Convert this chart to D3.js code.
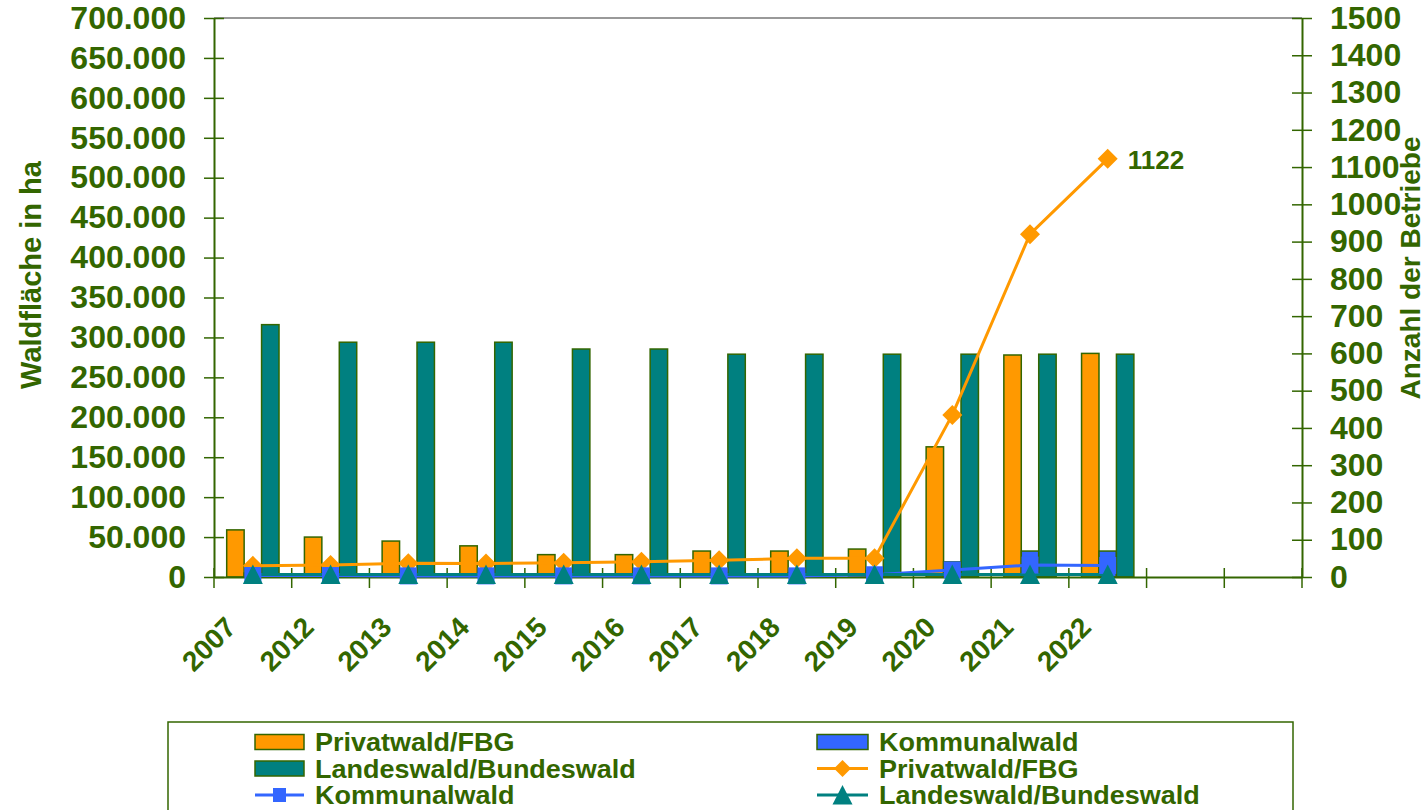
<!DOCTYPE html>
<html lang="de">
<head>
<meta charset="UTF-8">
<script src="https://d3js.org/d3.v7.min.js"></script>
<style>
  body { margin: 0; background: #fff; }
  text { font-family: "Liberation Sans", Arial, sans-serif; font-weight: bold; fill: #336600; }
</style>
</head>
<body>
<script>
// categories + values (area in ha, count of companies)
const years = ["2007", "2012", "2013", "2014", "2015", "2016", "2017", "2018", "2019", "2020", "2021", "2022"];
const privatArea   = [59000, 50000, 45000, 39000, 28000, 28000, 32500, 32500, 35000, 163000, 278000, 280000];
const kommunalArea = [5000, 5000, 4000, 4000, 4000, 4000, 5000, 5000, 8000, 19000, 32500, 32500];
const landesArea   = [316000, 294000, 294000, 294000, 285500, 285500, 279000, 279000, 279000, 279000, 279000, 279000];
const privatCount   = [30, 32, 37, 36, 38, 41, 45, 50, 50, 435, 920, 1122];
const kommunalCount = [4, 4, 3, 3, 3, 3, 3, 3, 6, 19, 32, 31];
const landesCount   = [7, 7, 7, 7, 7, 7, 7, 7, 7, 7, 7, 7];
const leftTicks = d3.range(0, 700001, 50000);
const rightTicks = d3.range(0, 1501, 100);
const slots = 14; // two empty slots at the right end

const green = "#336600";
const cOrange = "#FF9900", cBlue = "#3366FF", cTeal = "#008080";

const W = 1426, H = 810;
const pLeft = 214, pRight = 1302, pTop = 18, pBottom = 577;

const svg = d3.select("body").append("svg").attr("width", W).attr("height", H);

const x = d3.scaleBand().domain(d3.range(slots)).range([pLeft, pRight]);
const bw = x.bandwidth();
const xs = d3.scaleBand().domain([0, 1, 2]).range([12.7, bw - 12.7]);
const yL = d3.scaleLinear().domain([0, 700000]).range([pBottom, pTop]);
const yR = d3.scaleLinear().domain([0, 1500]).range([pBottom, pTop]);
const cx = i => x(i) + bw / 2;

const de = d3.formatLocale({ decimal: ",", thousands: ".", grouping: [3], currency: ["", ""] });

// top border of plot area
svg.append("line").attr("x1", pLeft).attr("x2", pRight).attr("y1", pTop).attr("y2", pTop)
  .attr("stroke", "#999").attr("stroke-width", 2);

// bars
const barSeries = [[privatArea, cOrange], [kommunalArea, cBlue], [landesArea, cTeal]];
barSeries.forEach(([vals, col], s) => {
  svg.append("g").selectAll("rect").data(vals).join("rect")
    .attr("x", (d, i) => x(i) + xs(s))
    .attr("width", xs.bandwidth())
    .attr("y", d => yL(d))
    .attr("height", d => pBottom - yL(d))
    .attr("fill", col).attr("stroke", green).attr("stroke-width", 1.5);
});

// axes
const axL = svg.append("g").attr("transform", `translate(${pLeft},0)`)
  .call(d3.axisLeft(yL).tickValues(leftTicks).tickFormat(de.format(",")).tickSizeInner(10).tickSizeOuter(0).tickPadding(18));
const axR = svg.append("g").attr("transform", `translate(${pRight},0)`)
  .call(d3.axisRight(yR).tickValues(rightTicks).tickFormat(d3.format("d")).tickSizeInner(10).tickSizeOuter(0).tickPadding(18));
[axL, axR].forEach(a => {
  a.select(".domain").attr("stroke", green).attr("stroke-width", 2);
  a.selectAll(".tick line").attr("stroke", green).attr("stroke-width", 1.5);
  a.selectAll(".tick text").attr("font-size", 32).attr("fill", green)
    .attr("font-family", "Liberation Sans, Arial, sans-serif").attr("font-weight", "bold");
});
// ticks cross the axis
axL.selectAll(".tick line").attr("x1", 10);
axR.selectAll(".tick line").attr("x1", -10);

const axX = svg.append("g").attr("transform", `translate(0,${pBottom})`)
  .call(d3.axisBottom(x).tickValues([]).tickSizeOuter(0));
axX.select(".domain").attr("stroke", green).attr("stroke-width", 2);
svg.append("g").selectAll("line").data(d3.range(slots + 1)).join("line")
  .attr("x1", i => pLeft + i * bw).attr("x2", i => pLeft + i * bw)
  .attr("y1", pBottom - 9).attr("y2", pBottom + 11)
  .attr("stroke", green).attr("stroke-width", 1.5);

// year labels
svg.append("g").selectAll("text").data(years).join("text")
  .attr("transform", (d, i) => `translate(${cx(i) - 15},629) rotate(-45)`)
  .attr("text-anchor", "end").attr("font-size", 28).text(d => d);

// lines
const lineSeries = [[privatCount, cOrange, "diamond"], [kommunalCount, cBlue, "square"], [landesCount, cTeal, "triangle"]];
const markerPath = {
  diamond: "M0,-10L10,0L0,10L-10,0Z",
  square: "M-8.5,-8.5H8.5V8.5H-8.5Z",
  triangle: "M0,-10L10,9.5H-10Z",
  legDiamond: "M0,-8.5L8.5,0L0,8.5L-8.5,0Z",
  legSquare: "M-6.5,-7H6.5V7H-6.5Z"
};
lineSeries.forEach(([vals, col, m]) => {
  svg.append("path").datum(vals)
    .attr("d", d3.line().x((d, i) => cx(i)).y(d => yR(d)))
    .attr("fill", "none").attr("stroke", col).attr("stroke-width", 3);
});
lineSeries.forEach(([vals, col, m]) => {
  svg.append("g").selectAll("path").data(vals).join("path")
    .attr("transform", (d, i) => `translate(${cx(i)},${yR(d)})`)
    .attr("d", markerPath[m]).attr("fill", col);
});

// data label
const last = privatCount.length - 1;
svg.append("text").attr("x", cx(last) + 20).attr("y", yR(privatCount[last]) + 10)
  .attr("font-size", 26).text(privatCount[last]);

// axis titles
svg.append("text").attr("transform", "translate(41,275) rotate(-90)")
  .attr("text-anchor", "middle").attr("font-size", 29).text("Waldfläche in ha");
svg.append("text").attr("transform", "translate(1420,268) rotate(-90)")
  .attr("text-anchor", "middle").attr("font-size", 28).text("Anzahl der Betriebe");

// legend
svg.append("rect").attr("x", 168).attr("y", 722).attr("width", 1125).attr("height", 100)
  .attr("fill", "none").attr("stroke", green).attr("stroke-width", 1.5);
const legend = [
  { label: "Privatwald/FBG", col: cOrange, kind: "bar", x: 255, y: 742 },
  { label: "Kommunalwald", col: cBlue, kind: "bar", x: 817, y: 742 },
  { label: "Landeswald/Bundeswald", col: cTeal, kind: "bar", x: 255, y: 768.5 },
  { label: "Privatwald/FBG", col: cOrange, kind: "legDiamond", x: 817, y: 768.5 },
  { label: "Kommunalwald", col: cBlue, kind: "legSquare", x: 255, y: 795 },
  { label: "Landeswald/Bundeswald", col: cTeal, kind: "triangle", x: 817, y: 795 }
];
legend.forEach(l => {
  const sw = l.x > 500 ? 51 : 49;
  const g = svg.append("g").attr("transform", `translate(${l.x},${l.y})`);
  if (l.kind === "bar") {
    g.append("rect").attr("x", 0).attr("y", -7.5).attr("width", sw).attr("height", 15)
      .attr("fill", l.col).attr("stroke", green).attr("stroke-width", 1.5);
  } else {
    g.append("line").attr("x1", 0).attr("x2", sw).attr("stroke", l.col).attr("stroke-width", 3);
    g.append("path").attr("transform", `translate(${sw / 2},0)`).attr("d", markerPath[l.kind]).attr("fill", l.col);
  }
  g.append("text").attr("transform", `translate(${sw + 11},9) scale(1.08,1)`)
    .attr("font-size", 25).text(l.label);
});
</script>
</body>
</html>
